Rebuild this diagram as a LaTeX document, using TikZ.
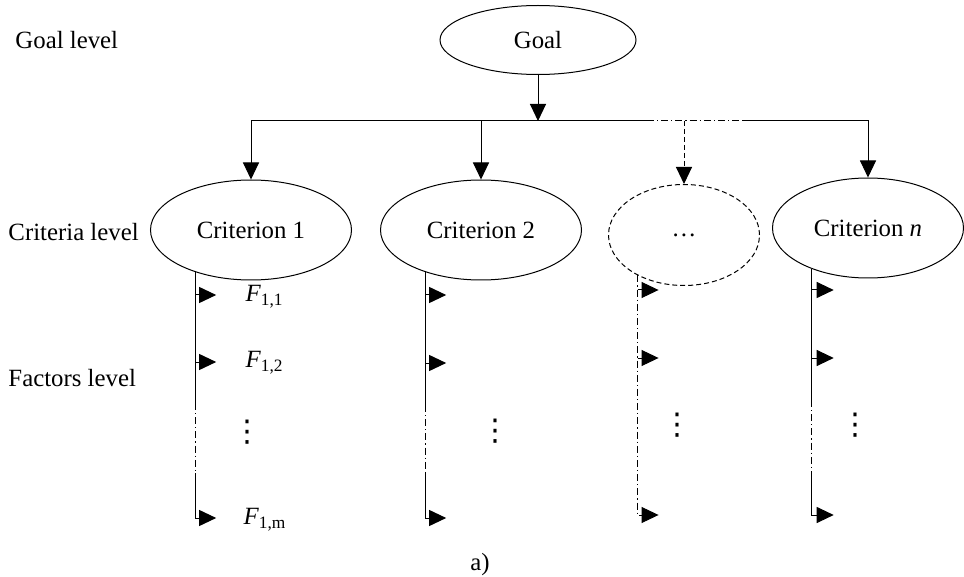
\documentclass[tikz,border=0pt]{standalone}
\usepackage{fontspec}
\setmainfont{Liberation Serif}
\newfontfamily\symfont{DejaVu Sans}
\usetikzlibrary{arrows.meta,shapes.geometric}
\tikzset{
  lvl/.style={anchor=west, inner sep=0pt},
  crit/.style={draw, ellipse, inner sep=0pt, minimum width=100.5pt, minimum height=50pt},
  arr/.style={-{Triangle[length=8.5pt,width=8pt]}},
  dashdot/.style={dash pattern=on 3.5pt off 1.5pt on 0.6pt off 1.5pt},
  dashthin/.style={dash pattern=on 2.5pt off 1.5pt},
  fac/.style={anchor=west, inner sep=0pt},
  vdot/.style={inner sep=0pt, font=\fontsize{15}{17}\symfont},
}
\begin{document}
\begin{tikzpicture}[x=0.5pt,y=-0.5pt,line width=0.5pt,font=\fontsize{12.4}{15}\selectfont]
\useasboundingbox (0,0) rectangle (964,577);
% levels
\node[lvl] (goallvl) at (15,40) {Goal level};
\node[lvl] (critlvl) at (8,232) {Criteria level};
\node[lvl] (faclvl) at (8,378) {Factors level};
% goal and criteria
\node[draw, ellipse, inner sep=0pt, minimum width=98pt, minimum height=34.5pt] (goal) at (538,40) {Goal};
\node[crit] (c1) at (251,230) {Criterion 1};
\node[crit] (c2) at (481,230) {Criterion 2};
\node[crit, dashthin, minimum width=75.5pt, minimum height=50.5pt] (c3) at (684,235) {\dots};
\node[crit, minimum width=95.5pt] (cn) at (868,228) {Criterion \textit{n}};
% bus
\coordinate (b1) at (c1.north |- 0,121);
\coordinate (b2) at (c2.north |- 0,121);
\coordinate (b3) at (c3.north |- 0,121);
\coordinate (bn) at (cn.north |- 0,121);
\coordinate (bs) at (647,121);
\coordinate (be) at (742,121);
\draw[arr] (goal.south) -- (goal.south |- b1);
\draw (b1) -- (bs);
\draw[dashdot] (bs) -- (be);
\draw[arr] (be) -- (bn) -- (cn.north);
\draw[arr] (b1) -- (c1.north);
\draw[arr] (b2) -- (c2.north);
\draw[arr, dashthin] (b3) -- (c3.north);
% criterion 1 factors
\coordinate (f1) at (c1.217);
\draw (f1) -- (f1 |- 0,403);
\draw[dashdot] (f1 |- 0,403) -- (f1 |- 0,473);
\draw[arr] (f1 |- 0,473) -- (f1 |- 0,518) -- ++(21,0);
\draw[arr] (f1 |- 0,295) -- ++(21,0);
\draw[arr] (f1 |- 0,362) -- ++(21,0);
\node[fac] (f11) at (245,297) {\textit{F}\textsubscript{1,1}};
\node[fac] (f12) at (245,363) {\textit{F}\textsubscript{1,2}};
\node[fac] (f1m) at (243,520) {\textit{F}\textsubscript{1,m}};
\node[vdot] (d1) at (247,432) {⋮};
% criterion 2 factors
\coordinate (f2) at (c2.217);
\draw (f2) -- (f2 |- 0,405);
\draw[dashdot] (f2 |- 0,405) -- (f2 |- 0,473);
\draw[arr] (f2 |- 0,473) -- (f2 |- 0,518) -- ++(21,0);
\draw[arr] (f2 |- 0,295) -- ++(21,0);
\draw[arr] (f2 |- 0,363) -- ++(21,0);
\node[vdot] (d2) at (495,431) {⋮};
% dotted criterion factors
\coordinate (f3) at (c3.221);
\draw[arr, dashdot] (f3) -- (f3 |- 0,515) -- ++(21,0);
\draw[arr] (f3 |- 0,290) -- ++(21,0);
\draw[arr] (f3 |- 0,358) -- ++(21,0);
\node[vdot] (d3) at (677,425) {⋮};
% criterion n factors
\coordinate (fn) at (cn.216);
\draw (fn) -- (fn |- 0,400);
\draw[dashdot] (fn |- 0,400) -- (fn |- 0,473);
\draw[arr] (fn |- 0,473) -- (fn |- 0,515) -- ++(22,0);
\draw[arr] (fn |- 0,290) -- ++(22,0);
\draw[arr] (fn |- 0,358) -- ++(22,0);
\node[vdot] (dn) at (855,425) {⋮};
% caption
\node (cap) at (480,565) {a)};
\end{tikzpicture}
\end{document}
